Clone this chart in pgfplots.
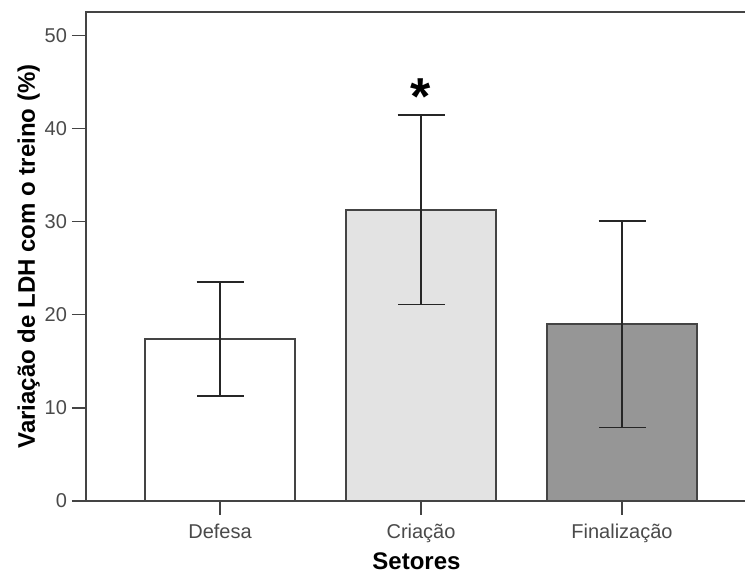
\documentclass[border=0pt]{standalone}
\usepackage{pgfplots}
\pgfplotsset{compat=1.18}
\usepackage{fontspec}
\setmainfont{Liberation Sans}
\definecolor{axgray}{HTML}{444444}
\definecolor{ticklab}{HTML}{4A4A4A}
\definecolor{critcol}{HTML}{E3E3E3}
\definecolor{fincol}{HTML}{969696}
\begin{document}
\begin{tikzpicture}
\begin{axis}[
  scale only axis,
  width=330.5pt, height=244.5pt,
  xmin=-0.667, xmax=2.622,
  ymin=0, ymax=52.5,
  xtick={0,1,2},
  xticklabels={Defesa,Criação,Finalização},
  ytick={0,10,20,30,40,50},
  tick pos=left,
  tick align=outside,
  major tick length=7pt,
  tick style={axgray, line width=0.7pt},
  axis line style={axgray, line width=0.7pt},
  /pgf/number format/assume math mode=true,
  tick label style={font=\fontsize{10}{12}\selectfont, text=ticklab},
  yticklabel style={xshift=1pt},
  xticklabel style={yshift=-1pt},
  xlabel={\textbf{Setores}},
  ylabel={\textbf{Variação de LDH com o treino (\%)}},
  xlabel style={font=\fontsize{12}{14}\selectfont, yshift=2pt},
  ylabel style={font=\fontsize{12}{14}\selectfont, yshift=-4.5pt},
  ybar, bar width=75pt, bar shift=0pt,
  every axis plot/.append style={draw=axgray, line width=0.7pt},
  error bars/y dir=both, error bars/y explicit,
  error bars/error bar style={black!85, line width=0.8pt},
  error bars/error mark options={rotate=90, mark size=11.75pt, line width=0.9pt, black!85},
]
\addplot[fill=white] coordinates {(0,17.4) +- (0,6.1)};
\addplot[fill=critcol] coordinates {(1,31.25) +- (0,10.15)};
\addplot[fill=fincol] coordinates {(2,19.0) +- (0,11.1)};
\node[font=\fontsize{26}{26}\selectfont\bfseries] at (axis cs:1,43.4) {*};
\end{axis}
\pgfresetboundingbox
\path[use as bounding box] ([xshift=-43pt,yshift=-36pt]current axis.south west) rectangle ([xshift=-1pt,yshift=6pt]current axis.north east);
\end{tikzpicture}
\end{document}
